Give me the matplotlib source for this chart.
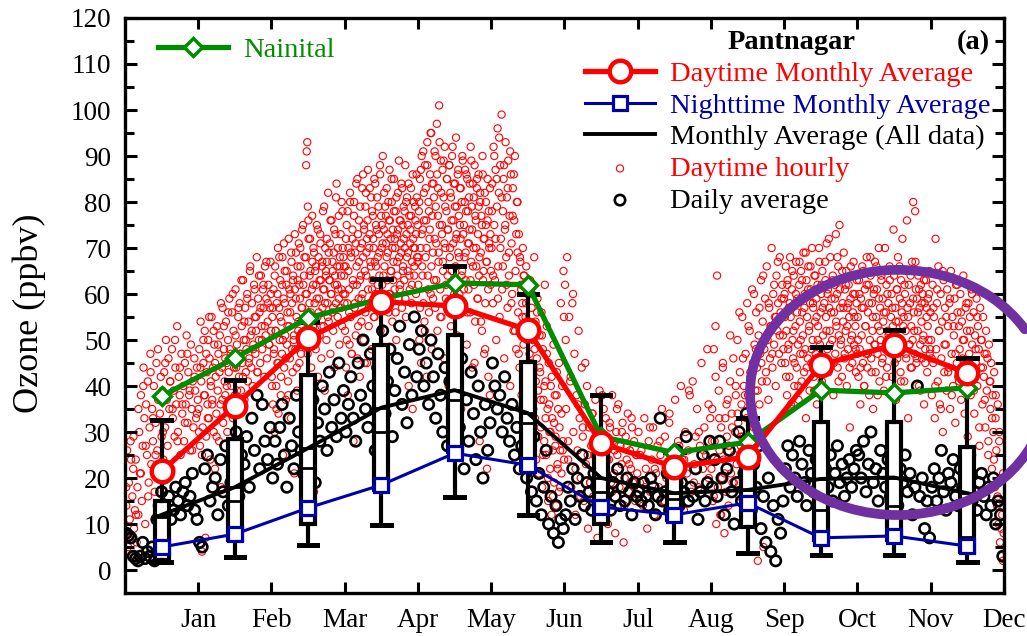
import numpy as np
import matplotlib.pyplot as plt
from matplotlib.patches import Arc

plt.rcParams['font.family'] = 'Liberation Serif'

meses = ['Jan', 'Feb', 'Mar', 'Apr', 'May', 'Jun', 'Jul', 'Aug', 'Sep', 'Oct', 'Nov', 'Dec']

# promedios mensuales (ppbv)
nainital = [37.8, 46.1, 54.8, 59.0, 62.4, 62.0, 29.0, 25.5, 27.8, 39.1, 38.5, 39.6]
day_avg = [21.5, 35.7, 50.4, 58.3, 57.4, 52.2, 27.6, 22.4, 24.6, 44.6, 48.9, 42.8]
night_avg = [5.0, 7.8, 13.5, 18.5, 25.4, 22.8, 13.7, 12.0, 14.6, 7.0, 7.4, 5.2]
all_avg = [12.0, 18.0, 26.5, 35.3, 39.1, 34.1, 20.0, 16.7, 17.4, 19.8, 20.1, 16.7]

# estadisticos de las cajas (todos los datos)
box_whislo = [1.8, 2.9, 5.4, 9.8, 15.9, 12.0, 6.0, 6.0, 3.6, 3.3, 3.3, 1.8]
box_q1 = [2.2, 6.5, 10.1, 17.4, 25.7, 21.7, 10.1, 10.9, 9.4, 6.5, 6.5, 4.0]
box_med = [11.5, 14.9, 22.1, 30.1, 37.0, 32.0, 17.0, 15.5, 14.0, 13.0, 14.0, 7.2]
box_q3 = [15.0, 28.5, 42.4, 48.9, 51.1, 45.3, 26.1, 21.7, 22.5, 32.2, 32.2, 26.8]
box_whishi = [32.6, 41.3, 54.0, 63.2, 66.1, 60.1, 38.0, 25.7, 33.0, 48.4, 52.2, 46.0]

# promedios diarios, por mes
daily = [
    [8, 7.5, 7, 3, 2.5, 2, 3, 6, 2.5, 4, 3, 5, 2, 11, 14, 17, 20, 22, 16, 11, 13, 18, 15, 12, 17, 19, 14, 16, 21, 13, 11],
    [6, 5, 22, 25, 15, 18, 20, 12, 24, 17, 27, 14, 19, 21, 30, 16, 25, 23, 29, 18, 33, 26, 38, 22, 36, 28, 24, 31],
    [20, 28, 23, 31, 36, 25, 18, 33, 27, 22, 38, 30, 26, 21, 34, 29, 24, 37, 19, 32, 28, 40, 35, 26, 43, 31, 37, 29, 45, 33, 39],
    [30, 36, 42, 33, 28, 45, 38, 50, 35, 31, 47, 40, 26, 44, 37, 52, 34, 41, 48, 29, 39, 46, 53, 36, 43, 32, 49, 38, 55, 42],
    [48, 52, 40, 45, 36, 50, 42, 33, 47, 38, 30, 44, 27, 41, 35, 25, 39, 31, 46, 22, 37, 28, 43, 34, 24, 40, 30, 20, 36, 26, 32],
    [45, 40, 35, 38, 30, 42, 33, 28, 36, 25, 31, 22, 27, 35, 20, 24, 17, 29, 15, 21, 12, 18, 26, 10, 16, 8, 14, 6, 11, 9],
    [12, 18, 15, 22, 11, 20, 16, 25, 14, 19, 17, 13, 21, 18, 16, 24, 15, 20, 17, 13, 19, 16, 22, 14, 18, 15, 20, 17, 12, 19, 16],
    [17, 15, 19, 16, 14, 20, 18, 12, 16, 33, 15, 17, 21, 13, 18, 16, 26, 14, 19, 17, 29, 15, 18, 16, 22, 11, 17, 25, 15, 19, 28],
    [18, 24, 16, 28, 20, 12, 22, 26, 17, 10, 19, 30, 15, 21, 34, 25, 13, 23, 18, 27, 9, 16, 6, 20, 4, 14, 2, 11, 8, 15],
    [22, 27, 18, 25, 20, 16, 28, 23, 19, 14, 26, 21, 17, 24, 29, 20, 11, 22, 18, 25, 15, 21, 27, 19, 23, 16, 20, 24, 18, 22, 26],
    [25, 20, 28, 17, 23, 30, 19, 22, 15, 26, 21, 18, 24, 16, 27, 20, 14, 22, 19, 25, 17, 21, 12, 18, 40, 16, 20, 9, 15, 7],
    [18, 22, 15, 20, 26, 17, 13, 21, 19, 24, 16, 14, 22, 18, 11, 20, 25, 15, 17, 13, 19, 21, 16, 12, 18, 14, 20, 10, 15, 12, 3],
]

# datos horarios diurnos, por mes (dos tandas de lecturas)
hourly_a = [
    [8, 14, 26, 5, 19, 11, 28, 3, 16, 22, 9, 13, 24, 6, 18,
     12, 30, 21, 38, 15, 27, 44, 33, 10, 36, 25, 41, 19, 31, 47, 23, 35, 28, 40, 17, 32, 45, 26, 37, 20, 34, 42, 29, 39, 24,
     43, 31, 50, 37, 27, 46, 35, 41, 22, 48, 33, 39, 29, 44, 36, 53, 30, 42, 38, 25, 47, 34, 40, 28, 45, 36, 51, 32, 43, 38,
     26, 49, 35, 41, 31, 46, 39, 33, 44, 37],
    [35, 48, 27, 54, 41, 4, 31, 45, 38, 52, 7, 29, 43, 36, 50, 33, 46, 24, 40, 55,
     37, 44, 30, 49, 22, 42, 34, 53, 39, 47, 28, 51, 36, 18, 44, 57, 32, 48, 41, 38, 54, 45,
     30, 50, 43, 59, 35, 47, 40, 56, 33, 52, 46, 38, 61, 44, 49, 36, 55, 42, 58, 47,
     39, 53, 45, 63, 50, 37, 57, 43, 48, 60, 41, 54, 46, 65, 51, 44, 58, 40, 49, 62,
     55, 47, 52, 68, 43, 59, 50, 56, 45, 64, 53, 48, 61, 57, 42, 66, 51, 59, 46, 54,
     62, 49, 57, 67, 52],
    [42, 55, 36, 61, 48, 30, 66, 52, 40, 58, 45, 70, 34, 57, 50, 63, 38, 54, 47, 68,
     25, 59, 44, 65, 51, 37, 62, 49, 56, 41, 72, 53, 46, 60, 33, 67, 58, 43, 64, 50,
     21, 61, 48, 69, 55, 39, 63, 52, 71, 45, 59, 66, 47, 57, 74, 51, 62, 36, 68, 54,
     60, 88, 91, 93, 79, 76, 49, 64, 72, 56, 44, 61, 67, 53, 70, 17, 58, 65, 48, 62,
     75, 55, 42, 68, 59, 51, 73, 63, 46, 66, 57, 78, 53, 61, 39, 70, 64, 50, 67, 58,
     82, 54, 63, 71, 47, 60, 76, 56, 65, 52, 69, 44, 62, 73, 58, 84, 66, 55, 61, 77,
     49, 68, 57, 64, 80, 53, 70, 60, 66, 58],
    [52, 66, 44, 75, 58, 38, 70, 61, 49, 80, 55, 68, 47, 72, 63, 28, 77, 57, 69, 51,
     84, 62, 46, 73, 59, 67, 42, 79, 64, 54, 71, 60, 86, 50, 74, 65, 56, 82, 69, 45,
     76, 61, 53, 70, 83, 58, 66, 48, 78, 63, 72, 55, 85, 67, 60, 75, 43, 81, 68, 57,
     73, 64, 88, 52, 77, 70, 62, 90, 58, 74, 66, 79, 47, 71, 83, 63, 69, 56, 76, 87,
     60, 72, 65, 80, 54, 74, 67, 85, 61, 70, 78, 50, 73, 64, 82, 59, 68, 76, 62, 71,
     84, 57, 75, 66, 79, 63, 70, 88, 55, 73, 81, 65, 69, 40, 77, 61, 74, 83, 58, 67,
     35, 72, 80, 64, 70, 76, 60, 86, 68, 75],
    [62, 78, 50, 85, 70, 45, 90, 66, 74, 58, 82, 54, 88, 68, 76, 42, 93, 64, 80, 56,
     72, 86, 60, 95, 48, 77, 69, 84, 63, 91, 57, 79, 71, 97, 52, 83, 67, 101, 75, 61,
     89, 55, 73, 87, 65, 81, 46, 92, 70, 59, 78, 85, 64, 74, 40, 88, 68, 82, 53, 76,
     90, 62, 71, 84, 58, 79, 66, 94, 73, 51, 86, 69, 77, 60, 83, 72, 35, 80, 65, 89,
     57, 75, 68, 87, 63, 78, 49, 85, 71, 61, 81, 74, 56, 92, 67, 79, 44, 84, 70, 62,
     88, 54, 76, 66, 83, 59, 73, 86, 64, 28, 80, 69, 77, 52, 90, 63, 72, 47, 82, 58,
     75, 67, 22, 85, 61, 78, 70, 38, 73, 65],
    [70, 84, 58, 92, 75, 63, 87, 50, 79, 96, 66, 82, 55, 88, 72, 99, 61, 78, 85, 46,
     74, 93, 68, 81, 57, 89, 64, 77, 40, 86, 71, 60, 83, 52, 76, 90, 65, 48, 80, 69,
     56, 73, 44, 67, 62, 38, 58, 70, 49, 64, 34, 55, 66, 42, 60, 30, 52, 47, 63, 36,
     57, 27, 50, 44, 68, 33, 54, 24, 46, 59, 39, 21, 51, 43, 31, 56, 18, 48, 37, 28,
     62, 41, 25, 53, 35, 15, 45, 30, 22, 40, 12, 33, 26, 49, 19, 38, 29, 14, 43, 23,
     35, 17, 31, 26, 58, 21, 40, 28, 65, 24],
    [62, 35, 68, 24, 55, 41, 18, 58, 30, 47, 12, 38, 26, 52, 33, 20, 44, 29, 15, 36,
     23, 40, 9, 31, 19, 27, 34, 16, 25, 37, 21, 7, 30, 39, 17, 28, 22, 35, 14, 33,
     26, 10, 24, 31, 19, 38, 28, 21, 8, 30, 25, 36, 18, 27, 23, 32, 6, 20, 29, 24,
     34, 17, 26, 22, 31, 19, 28, 15, 25, 21],
    [30, 19, 26, 14, 33, 22, 9, 28, 17, 24, 31, 12, 21, 27, 18, 25, 35, 15, 29, 20,
     23, 32, 11, 26, 16, 37, 22, 28, 19, 40, 24, 13, 30, 21, 26, 38, 17, 41, 23, 29,
     35, 18, 27, 45, 22, 31, 25, 48, 20, 33],
    [22, 35, 15, 48, 28, 53, 10, 64, 18, 39, 26, 12, 31, 20, 44, 24, 8, 33, 17, 29,
     37, 14, 27, 41, 21, 34, 19, 46, 25, 30, 38, 23, 50, 32, 16, 43, 27, 36, 55, 29,
     40, 24, 47, 33, 58, 38, 28, 52, 42, 35, 61, 45, 31, 49, 39, 56, 44, 2, 51, 36,
     47, 63, 41, 54, 5, 48, 59, 43, 66, 50, 37, 57, 46, 53, 70, 44, 60, 49, 55, 40,
     64, 52, 58, 47, 68, 56, 45, 62, 51, 59],
    [60, 45, 66, 52, 38, 63, 48, 57, 42, 68, 55, 35, 61, 50, 46, 64, 40, 58, 53, 67,
     44, 59, 49, 37, 62, 54, 47, 65, 41, 56, 51, 69, 43, 60, 48, 33, 63, 55, 46, 66,
     52, 39, 58, 61, 45, 70, 50, 57, 42, 64, 54, 47, 59, 36, 62, 53, 44, 67, 49, 56,
     60, 41, 65, 51, 28, 58, 46, 63, 55, 71, 48, 61, 43, 57, 52, 68, 45, 59, 50, 64,
     38, 56, 62, 47, 73, 53, 60, 44, 66, 51, 75, 57, 49, 63, 42, 58, 54, 69, 46, 61,
     52, 65, 40, 57, 48, 62, 55, 31, 59, 50, 64, 45, 56, 67, 49, 60, 53, 43, 58, 47],
    [55, 42, 63, 48, 36, 59, 51, 66, 45, 57, 40, 61, 53, 47, 68, 44, 56, 62, 38, 50,
     64, 46, 58, 52, 35, 60, 49, 67, 43, 55, 61, 47, 53, 70, 41, 57, 50, 63, 45, 59,
     54, 39, 65, 48, 56, 62, 44, 52, 58, 30, 66, 49, 55, 60, 42, 53, 47, 64, 51, 57,
     37, 61, 46, 68, 54, 50, 59, 43, 63, 56, 72, 48, 55, 41, 60, 52, 46, 65, 57, 33,
     62, 49, 58, 44, 53, 67, 50, 80, 56, 47, 78, 61, 45, 59, 52, 64, 40, 57, 49, 62,
     54, 46, 60, 51, 36, 58, 48, 63, 55, 43, 59, 50, 65, 47, 56],
    [50, 38, 62, 45, 55, 33, 72, 48, 58, 41, 66, 52, 36, 60, 46, 54, 30, 63, 43, 57,
     49, 39, 61, 53, 44, 58, 35, 65, 47, 55, 40, 51, 59, 32, 62, 45, 56, 42, 53, 48,
     60, 37, 54, 46, 64, 50, 41, 57, 44, 52, 29, 58, 47, 55, 38, 61, 49, 43, 56, 34,
     51, 45, 59, 40, 53, 48, 27, 57, 44, 50, 36, 55, 42, 47, 31, 52, 39, 46, 25, 49,
     41, 35, 45, 22, 38, 30, 43, 18, 33, 26, 14, 36, 10, 28, 6, 20, 3, 12, 2, 8],
]

hourly_b = [
    [18, 7, 24, 29, 12, 35, 21, 40, 27, 16, 43, 33, 25, 48, 38, 30, 45, 22, 41, 35,
     50, 28, 44, 36, 32, 47, 39, 26, 42, 34],
    [30, 44, 25, 50, 38, 47, 33, 55, 41, 36, 52, 45, 29, 49, 43, 58, 37, 53, 46, 40,
     56, 48, 35, 60, 44, 51, 39, 57, 47, 63, 42, 54, 50, 59, 45, 66, 52, 48, 61, 55,
     43, 64, 57, 50, 62, 53, 67, 58, 49, 60],
    [40, 57, 47, 64, 52, 35, 60, 45, 68, 55, 42, 62, 50, 71, 58, 46, 65, 53, 38, 61,
     56, 69, 48, 63, 51, 73, 59, 44, 66, 54, 62, 70, 49, 57, 75, 64, 52, 68, 60, 47,
     72, 58, 65, 54, 77, 62, 69, 50, 66, 59, 74, 56, 63, 71, 53, 67, 61, 79, 58, 65,
     72, 55, 69, 63, 76, 60, 67, 57, 74, 64, 81, 62, 70, 59, 66, 73, 61, 78, 68, 64],
    [60, 72, 50, 78, 65, 56, 82, 69, 47, 74, 62, 80, 58, 71, 66, 85, 53, 76, 63, 70,
     59, 83, 68, 75, 45, 79, 64, 72, 87, 57, 73, 67, 81, 61, 77, 70, 55, 84, 66, 74,
     62, 79, 69, 86, 58, 75, 71, 64, 82, 52, 77, 68, 73, 80, 60, 76, 65, 85, 70, 63,
     78, 72, 56, 81, 67, 74, 89, 61, 76, 69, 83, 65, 72, 78, 59, 80, 68, 75, 84, 64,
     71, 77, 62, 86, 70, 66, 79, 73, 81, 67],
    [68, 80, 57, 87, 73, 64, 91, 76, 52, 83, 70, 88, 61, 78, 74, 95, 66, 84, 59, 81,
     72, 90, 63, 86, 77, 69, 93, 55, 82, 75, 67, 89, 71, 79, 62, 85, 74, 58, 88, 70,
     81, 65, 92, 76, 60, 84, 72, 79, 50, 87, 68, 75, 83, 64, 90, 73, 61, 80, 69, 86,
     56, 78, 71, 84, 63, 89, 74, 66, 81, 45, 77, 70, 85, 59, 79, 68, 82, 54, 75, 86,
     65, 72, 48, 80, 67, 76, 42, 71, 83, 62],
    [78, 64, 90, 72, 85, 59, 94, 70, 81, 66, 88, 75, 62, 83, 69, 91, 58, 77, 86, 52,
     73, 80, 47, 68, 61, 55, 64, 44, 58, 50, 39, 53, 45, 60, 35, 48, 41, 56, 29, 44,
     37, 51, 25, 40, 33, 47, 20, 36, 30, 42, 16, 32, 27, 38, 22, 45, 18, 34, 26, 55],
    [50, 28, 42, 60, 22, 36, 16, 31, 45, 25, 19, 34, 27, 12, 29, 38, 21, 24, 32, 17,
     26, 35, 20, 30, 14, 27, 23, 33, 18, 25],
    [25, 18, 31, 22, 28, 15, 34, 20, 27, 24, 39, 19, 30, 26, 36],
    [28, 16, 42, 24, 33, 12, 45, 21, 36, 27, 51, 31, 19, 40, 34, 56, 29, 46, 38, 25,
     53, 43, 35, 60, 48, 39, 57, 45, 64, 50, 41, 58, 53, 47, 62, 55, 67, 51, 59, 48],
    [55, 42, 62, 49, 58, 36, 65, 52, 45, 60, 56, 40, 67, 50, 63, 47, 57, 69, 44, 61,
     53, 66, 48, 58, 39, 64, 55, 50, 70, 46, 62, 57, 43, 67, 52, 60, 72, 49, 56, 63,
     45, 59, 54, 68, 41, 61, 50, 65, 57, 47, 62, 53, 58, 44, 66, 51, 60, 55, 48, 63],
    [50, 60, 44, 57, 65, 40, 53, 62, 47, 58, 68, 43, 55, 61, 49, 66, 38, 59, 52, 64,
     46, 56, 70, 42, 60, 51, 63, 48, 57, 74, 45, 54, 61, 50, 66, 41, 58, 53, 62, 47,
     76, 55, 49, 64, 44, 59, 52, 67, 46, 56, 61, 39, 58, 50, 63, 45, 57, 53, 60, 48],
    [46, 57, 40, 61, 52, 35, 65, 49, 55, 43, 59, 38, 53, 47, 62, 41, 56, 50, 34, 58,
     45, 52, 60, 39, 48, 55, 31, 50, 44, 37, 47, 28, 41, 33, 24, 38, 16, 30, 9, 21],
]

verde = '#008c00'
azul = '#0000a8'
morado = '#7030a0'

fig = plt.figure(figsize=(10.27, 6.36), dpi=100)
ax = fig.add_axes([0.1217, 0.0676, 0.8559, 0.9041])

centros = np.arange(12) + 0.5


def repartir(por_mes):
    # cada lectura se coloca a lo largo de su mes
    xs, ys = [], []
    for m, vals in enumerate(por_mes):
        n = len(vals)
        xs += list(m + (np.arange(n) + 0.5) / n)
        ys += vals
    return xs, ys


xa, ya = repartir(hourly_a)
xb, yb = repartir(hourly_b)
xd, yd = repartir(daily)

sc_hr = ax.scatter(xa + xb, ya + yb, s=27, facecolors='none', edgecolors='red', linewidths=0.8, zorder=1)
sc_dd = ax.scatter(xd, yd, s=56, facecolors='none', edgecolors='black', linewidths=1.9, zorder=2)

stats = []
for i in range(12):
    stats.append(dict(med=box_med[i], q1=box_q1[i], q3=box_q3[i], whislo=box_whislo[i],
                      whishi=box_whishi[i], mean=all_avg[i], fliers=[]))
ax.bxp(stats, positions=centros, widths=0.19, capwidths=0.25, patch_artist=True,
       showmeans=True, meanline=True, showfliers=False, manage_ticks=False,
       boxprops=dict(facecolor='white', edgecolor='black', linewidth=3),
       whiskerprops=dict(color='black', linewidth=3),
       capprops=dict(color='black', linewidth=3.6),
       medianprops=dict(color='black', linewidth=2),
       meanprops=dict(color='black', linewidth=2, linestyle='-'),
       zorder=3)

l_all, = ax.plot(centros, all_avg, color='black', lw=2.8, zorder=4)
l_night, = ax.plot(centros, night_avg, color=azul, lw=2.2, marker='s', ms=10,
                   mfc='white', mec=azul, mew=2.3, zorder=5)
l_nain, = ax.plot(centros, nainital, color=verde, lw=3.8, marker='D', ms=9,
                  mfc='white', mec=verde, mew=2.5, zorder=6)
l_day, = ax.plot(centros, day_avg, color='red', lw=3.8, marker='o', ms=15.5,
                 mfc='white', mec='red', mew=3.2, zorder=7)

# circulo que resalta Sep-Dic (abierto arriba a la derecha)
ring_w, ring_h = 4.04, 53.3
t = np.deg2rad([31, 350])
th = np.rad2deg(np.arctan2(ring_h * np.sin(t), ring_w * np.cos(t)))
ax.add_patch(Arc((10.553, 38.6), ring_w, ring_h, theta1=th[0], theta2=th[1],
                 color=morado, lw=7, clip_on=False, zorder=8, capstyle='round'))

ax.set_xlim(0, 12)
ax.set_ylim(-5, 120)
ax.set_xticks(np.arange(1, 13))
ax.set_xticklabels(meses)
ax.set_yticks(np.arange(0, 121, 10))
ax.set_yticks(np.arange(5, 120, 10), minor=True)
ax.tick_params(axis='both', which='both', direction='in', top=True, right=True, width=2.2)
ax.tick_params(axis='x', length=8, pad=11, labelsize=19.5)
ax.tick_params(axis='y', which='major', length=8.5, pad=10, labelsize=19.5)
ax.tick_params(axis='y', which='minor', length=6.5)
for s in ax.spines.values():
    s.set_linewidth(2.4)

ax.set_ylabel('Ozone (ppbv)', fontsize=26)
ax.yaxis.set_label_coords(-0.09, 0.487)

leg1 = ax.legend([l_nain], ['Nainital'], loc='upper left', bbox_to_anchor=(0.0375, 0.967),
                 frameon=False, fontsize=20.5, handlelength=2.46, handletextpad=0.53,
                 borderpad=0, borderaxespad=0)
leg1.get_texts()[0].set_color(verde)
ax.add_artist(leg1)

etiquetas = ['Daytime Monthly Average', 'Nighttime Monthly Average',
             'Monthly Average (All data)', 'Daytime hourly', 'Daily average']
leg2 = ax.legend([l_day, l_night, l_all, sc_hr, sc_dd], etiquetas, loc='upper left',
                 bbox_to_anchor=(0.5233, 0.925), frameon=False, fontsize=20.5,
                 handlelength=2.46, handletextpad=0.53, borderpad=0, borderaxespad=0,
                 labelspacing=0.2, scatterpoints=1)
for txt, c in zip(leg2.get_texts(), ['red', azul, 'black', 'red', 'black']):
    txt.set_color(c)

ax.text(0.7588, 0.958, 'Pantnagar', transform=ax.transAxes, ha='center', va='center',
        fontsize=20.5, fontweight='bold')
ax.text(0.984, 0.958, '(a)', transform=ax.transAxes, ha='right', va='center',
        fontsize=20.5, fontweight='bold')

fig.savefig('out.png', dpi=100)
